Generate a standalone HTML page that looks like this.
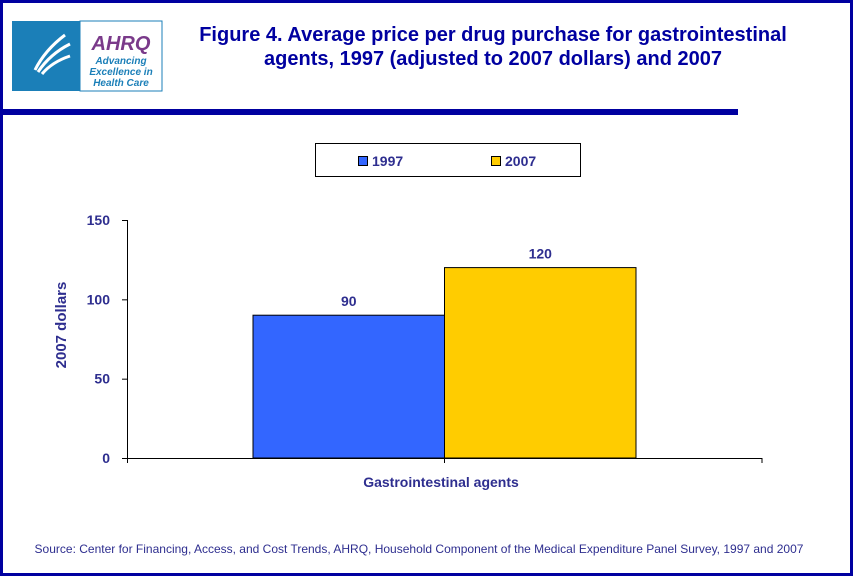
<!DOCTYPE html>
<html><head><meta charset="utf-8"><style>
body{margin:0;width:853px;height:576px;overflow:hidden;background:#fff;font-family:"Liberation Sans",Arial,sans-serif}
#frame{position:absolute;left:0;top:0;width:847px;height:570px;border:3px solid #0000a0}
</style></head><body>
<div id="frame"></div>
<svg width="853" height="576" style="position:absolute;left:0;top:0">
<g>
<rect x="12" y="21" width="68" height="70" fill="#1b7fb8"/>
<path d="M35 70 q10-20 30-35 M38 72 q12-18 32-28 M42 74 q10-12 28-18" stroke="#fff" stroke-width="3" fill="none"/>
<rect x="80" y="21" width="82" height="70" fill="#fff" stroke="#1b7fb8"/>
<text x="121" y="50" text-anchor="middle" font-size="20" font-weight="bold" font-style="italic" fill="#7a3a8a">AHRQ</text>
<text x="121" y="64" text-anchor="middle" font-size="10" font-style="italic" font-weight="bold" fill="#1b7fb8">Advancing</text>
<text x="121" y="75" text-anchor="middle" font-size="10" font-style="italic" font-weight="bold" fill="#1b7fb8">Excellence in</text>
<text x="121" y="86" text-anchor="middle" font-size="10" font-style="italic" font-weight="bold" fill="#1b7fb8">Health Care</text>
</g>
<text x="493" y="41" text-anchor="middle" font-size="20" font-weight="bold" fill="#0000a0">Figure 4. Average price per drug purchase for gastrointestinal</text>
<text x="493" y="65" text-anchor="middle" font-size="20" font-weight="bold" fill="#0000a0">agents, 1997 (adjusted to 2007 dollars) and 2007</text>
<rect x="0" y="109" width="738" height="6" fill="#0000a0"/>
<g>
<rect x="315.5" y="143.5" width="265" height="33" fill="#fff" stroke="#000"/>
<rect x="358.5" y="156.5" width="9" height="9" fill="#3366ff" stroke="#000"/>
<text x="372" y="166" font-size="14" font-weight="bold" fill="#2e2e8f">1997</text>
<rect x="491.5" y="156.5" width="9" height="9" fill="#ffcc00" stroke="#000"/>
<text x="505" y="166" font-size="14" font-weight="bold" fill="#2e2e8f">2007</text>
</g>
<g id="plot"></g>
<text x="66" y="325" text-anchor="middle" font-size="15" font-weight="bold" fill="#2e2e8f" transform="rotate(-90 66 325)">2007 dollars</text>
<text x="441" y="487" text-anchor="middle" font-size="14" font-weight="bold" fill="#2e2e8f">Gastrointestinal agents</text>
<text x="419" y="553" text-anchor="middle" font-size="12" fill="#2e2e8f">Source: Center for Financing, Access, and Cost Trends, AHRQ, Household Component of the Medical Expenditure Panel Survey, 1997 and 2007</text>
</svg>
<script>
const series=["1997","2007"];
const values=[90,120];
const colors=["#3366ff","#ffcc00"];
const yTicks=[0,50,100,150];
const NS="http://www.w3.org/2000/svg";
const g=document.getElementById('plot');
const y0=458,yTop=220,yMax=150;
const y=v=>y0-(v/yMax)*(y0-yTop);
const barL=253,barW=191.5;
function el(t,a){const e=document.createElementNS(NS,t);for(const k in a)e.setAttribute(k,a[k]);g.appendChild(e);return e;}
values.forEach((v,i)=>{
 const r=el('rect',{x:barL+i*barW,y:y(v),width:barW,height:y0-y(v),fill:colors[i],stroke:'#000','stroke-width':1});
 
 
 const t=el('text',{x:barL+i*barW+barW/2,y:y(v)-9,'text-anchor':'middle','font-size':14,'font-weight':'bold',fill:'#2e2e8f'});
 t.textContent=v;
 
 
});
const ax=el('line',{x1:127.5,y1:yTop,x2:127.5,y2:y0,stroke:'#000'});


const bx=el('line',{x1:127.5,y1:y0+0.5,x2:762,y2:y0+0.5,stroke:'#000'});


[127.5,444.5,762].forEach(x=>{el('line',{x1:x,y1:y0,x2:x,y2:y0+5,stroke:'#000'});});
yTicks.forEach(v=>{
 el('line',{x1:122,y1:y(v)+0.5,x2:127.5,y2:y(v)+0.5,stroke:'#000'});
 const t=el('text',{x:110,y:y(v)+5,'text-anchor':'end','font-size':14,'font-weight':'bold',fill:'#2e2e8f'});
 t.textContent=v;
 
 
});
</script>
</body></html>
